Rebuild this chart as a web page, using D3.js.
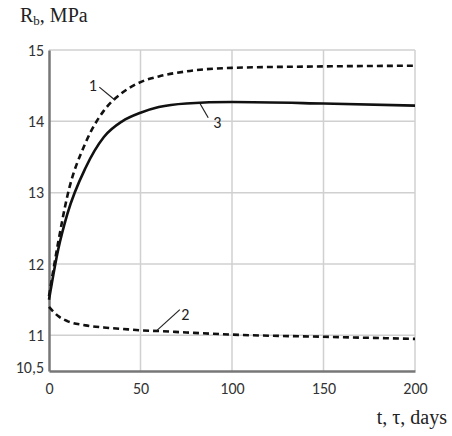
<!DOCTYPE html>
<html lang="en">
<head>
  <meta charset="UTF-8">
  <title>Rb vs time</title>
  <script src="https://d3js.org/d3.v7.min.js"></script>
  <style>
    body { margin: 0; background: #fff; }
    .tick-label { font-family: Carlito, "Open Sans", "DejaVu Sans", sans-serif; font-size: 16px; fill: #333; }
    .title { font-family: "Liberation Serif", "DejaVu Serif", serif; font-size: 20px; fill: #222; }
    .curve-label { font-family: Carlito, "Open Sans", sans-serif; font-size: 16px; fill: #222; }
  </style>
</head>
<body>
<div id="chart"></div>
<script>
  // Data
  const days = [0, 5, 10, 20, 30, 40, 50, 60, 75, 100, 150, 200];
  const curve1 = [11.55, 12.3, 12.95, 13.7, 14.15, 14.4, 14.55, 14.63, 14.7, 14.75, 14.77, 14.78];
  const curve2 = [11.4, 11.27, 11.2, 11.14, 11.11, 11.09, 11.07, 11.06, 11.04, 11.01, 10.98, 10.95];
  const curve3 = [11.5, 12.2, 12.7, 13.35, 13.78, 14.0, 14.12, 14.2, 14.25, 14.27, 14.25, 14.22];
  const xTicks = [0, 50, 100, 150, 200];
  const yTicks = [10.5, 11, 12, 13, 14, 15];
  const yTickLabels = ['10,5', '11', '12', '13', '14', '15'];

  const W = 452, H = 436;
  const margin = { top: 50, right: 37, bottom: 65, left: 49 };
  const width = W - margin.left - margin.right;
  const height = H - margin.top - margin.bottom;

  const x = d3.scaleLinear().domain([0, 200]).range([0, width]);
  const y = d3.scaleLinear().domain([10.5, 15]).range([height, 0]);

  const svg = d3.select('#chart').append('svg')
    .attr('width', W).attr('height', H);
  const g = svg.append('g').attr('transform', `translate(${margin.left},${margin.top})`);

  // grid
  g.selectAll('.vgrid').data(xTicks.slice(1)).enter().append('line')
    .attr('x1', d => x(d)).attr('x2', d => x(d))
    .attr('y1', 0).attr('y2', height)
    .attr('stroke', '#d0d0d0').attr('stroke-width', 1.5);
  g.selectAll('.hgrid').data(yTicks.slice(1)).enter().append('line')
    .attr('x1', 0).attr('x2', width)
    .attr('y1', d => y(d)).attr('y2', d => y(d))
    .attr('stroke', '#d0d0d0').attr('stroke-width', 1.5);

  // axes
  const xAxis = g.append('g').attr('transform', `translate(0,${height})`)
    .call(d3.axisBottom(x).tickValues(xTicks).tickSize(0).tickPadding(9));
  const yAxis = g.append('g')
    .call(d3.axisLeft(y).tickValues(yTicks).tickSize(0).tickPadding(5)
      .tickFormat((d, i) => yTickLabels[i]));
  [xAxis, yAxis].forEach(a => {
    a.select('.domain').attr('stroke', '#777').attr('stroke-width', 2.5);
    a.selectAll('text').attr('class', 'tick-label').attr('fill', null);
  });
  xAxis.selectAll('text').attr('dy', '0.9em');
  yAxis.selectAll('.tick').filter(d => d === 10.5).select('text').attr('dy', '0.1em');

  // curves
  const line = d3.line()
    .x((d, i) => x(days[i]))
    .y(d => y(d))
    .curve(d3.curveMonotoneX);

  const series = [
    { values: curve1, dash: '6,4' },
    { values: curve2, dash: '6,4' },
    { values: curve3, dash: null }
  ];
  g.selectAll('.curve').data(series).enter().append('path')
    .attr('fill', 'none')
    .attr('stroke', '#111')
    .attr('stroke-width', 2.6)
    .attr('stroke-dasharray', d => d.dash)
    .attr('d', d => line(d.values));

  // curve labels with leader lines
  const labels = [
    { text: '1', lx: 27.5, ly: 14.48, ax: 36, ay: 14.3, tx: 24, ty: 14.5 },
    { text: '2', lx: 71.5, ly: 11.36, ax: 59, ay: 11.07, tx: 74.5, ty: 11.3 },
    { text: '3', lx: 87, ly: 14.05, ax: 82.5, ay: 14.25, tx: 92, ty: 13.98 }
  ];
  labels.forEach(l => {
    g.append('line')
      .attr('x1', x(l.lx)).attr('y1', y(l.ly))
      .attr('x2', x(l.ax)).attr('y2', y(l.ay))
      .attr('stroke', '#222').attr('stroke-width', 1.2);
    g.append('text').attr('class', 'curve-label')
      .attr('x', x(l.tx)).attr('y', y(l.ty))
      .attr('text-anchor', 'middle').attr('dy', '0.35em')
      .text(l.text);
  });

  // axis titles
  const title = svg.append('text').attr('class', 'title').attr('x', 20).attr('y', 22);
  title.append('tspan').text('R');
  title.append('tspan').attr('font-size', 13).attr('dy', 3).text('b');
  title.append('tspan').attr('dy', -3).text(', MPa');

  svg.append('text').attr('class', 'title')
    .attr('x', 447).attr('y', 424).attr('text-anchor', 'end')
    .text('t, τ, days');
</script>
</body>
</html>
